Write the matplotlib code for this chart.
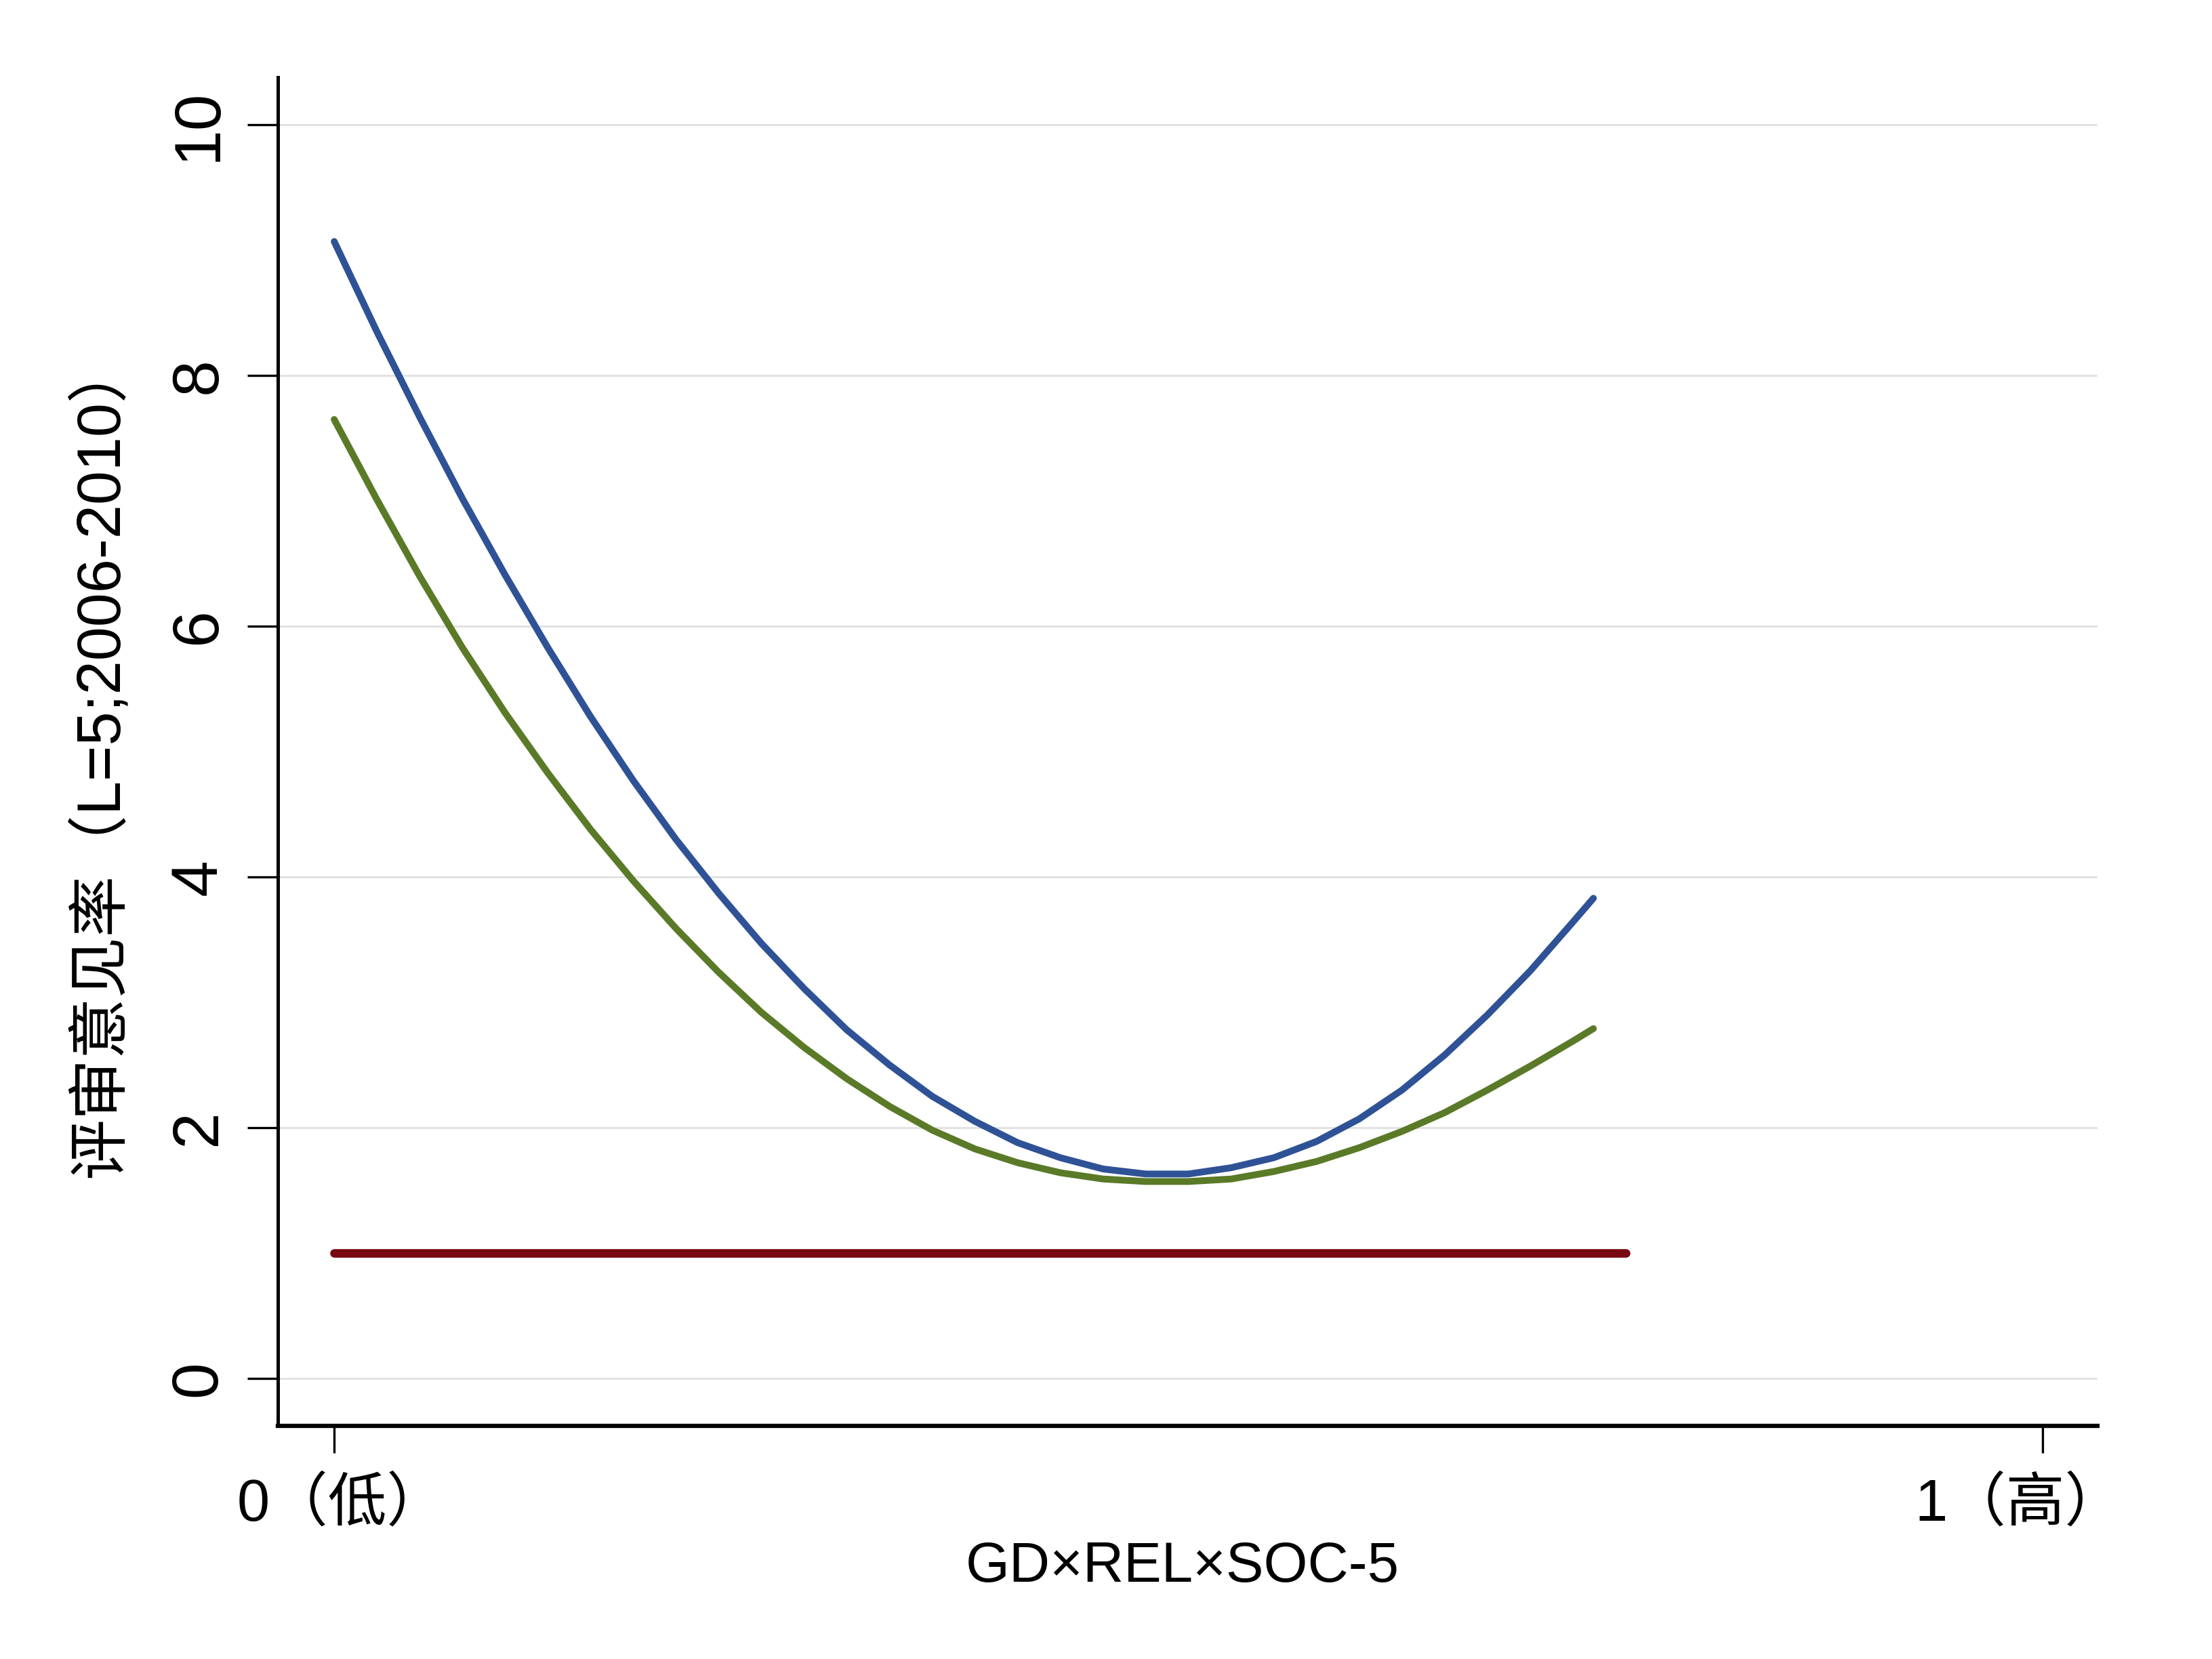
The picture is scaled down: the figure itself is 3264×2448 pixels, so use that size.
import matplotlib.pyplot as plt
from matplotlib.transforms import ScaledTranslation

# values
curve_x = [0, 0.025, 0.05, 0.075, 0.1, 0.125, 0.15, 0.175, 0.2, 0.225, 0.25,
           0.275, 0.3, 0.325, 0.35, 0.375, 0.4, 0.425, 0.45, 0.475, 0.5,
           0.525, 0.55, 0.575, 0.6, 0.625, 0.65, 0.675, 0.7, 0.725, 0.737]
blue_y = [9.07, 8.35, 7.67, 7.02, 6.41, 5.83, 5.28, 4.77, 4.30, 3.87, 3.47,
          3.11, 2.78, 2.50, 2.25, 2.05, 1.88, 1.76, 1.67, 1.63, 1.63,
          1.68, 1.76, 1.89, 2.07, 2.30, 2.58, 2.90, 3.25, 3.64, 3.83]
green_y = [7.65, 7.01, 6.40, 5.83, 5.31, 4.83, 4.38, 3.97, 3.59, 3.24, 2.92,
           2.64, 2.39, 2.17, 1.98, 1.83, 1.72, 1.64, 1.59, 1.57, 1.57,
           1.59, 1.65, 1.73, 1.84, 1.97, 2.12, 2.30, 2.49, 2.69, 2.79]

red_x = [0, 0.756]
red_y = [1.0, 1.0]

x_ticks = [0, 1]
x_labels = ['0（低）', '1（高）']
y_ticks = [0, 2, 4, 6, 8, 10]

plt.rcParams['font.family'] = ['Liberation Sans', 'Noto Sans CJK SC']

fig = plt.figure(figsize=(13.6, 10.2), dpi=240)
ax = fig.add_axes([0.1256, 0.1405, 0.8226, 0.8129])

ax.plot(curve_x, blue_y, color='#2f5296', lw=3.0, solid_capstyle='round', solid_joinstyle='round', zorder=3)
ax.plot(curve_x, green_y, color='#5a7a28', lw=3.0, solid_capstyle='round', solid_joinstyle='round', zorder=3)
ax.plot(red_x, red_y, color='#780812', lw=3.8, solid_capstyle='round', zorder=3)

ax.set_xlim(-0.033, 1.032)
ax.set_ylim(-0.38, 10.38)

ax.set_yticks(y_ticks)
ax.set_yticklabels([str(v) for v in y_ticks], rotation=90, va='center')
ax.set_xticks(x_ticks)
ax.set_xticklabels(x_labels)

ax.grid(axis='y', color='#e2e2e2', lw=0.9)
ax.set_axisbelow(True)

for s in ['top', 'right']:
    ax.spines[s].set_visible(False)
ax.spines['left'].set_linewidth(1.5)
ax.spines['bottom'].set_linewidth(1.9)

ax.tick_params(axis='y', length=13.5, width=1, pad=8, labelsize=29)
ax.tick_params(axis='x', length=12, width=1, pad=10.5, labelsize=26)

# nudge the x tick labels sideways, as in the original
shifts = [10, -35]
for lab, dx in zip(ax.get_xticklabels(), shifts):
    lab.set_transform(lab.get_transform() + ScaledTranslation(dx / 240, 0, fig.dpi_scale_trans))

ax.set_ylabel('评审意见率（L=5;2006-2010）', fontsize=27)
ax.yaxis.set_label_coords(-0.081, 0.495)
ax.set_xlabel('GD×REL×SOC-5', fontsize=25)
ax.xaxis.set_label_coords(0.497, -0.085)

fig.savefig('out.png', dpi=240)
